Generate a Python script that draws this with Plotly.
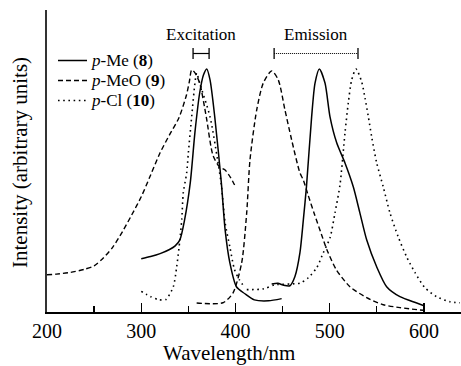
import plotly.graph_objects as go

# ---------------- data (wavelength in nm, intensity in arbitrary units) ----------------
me_ex_wl = [300, 310, 320, 330, 336, 341, 346, 352, 357, 362, 366, 369.5, 373, 378, 385, 389, 394, 401, 410, 420, 435, 449]
me_ex_int = [0.219, 0.228, 0.240, 0.257, 0.272, 0.297, 0.379, 0.531, 0.740, 0.901, 0.975, 1.000, 0.955, 0.803, 0.531, 0.338, 0.203, 0.104, 0.075, 0.050, 0.046, 0.055]

me_em_wl = [438.4, 445, 450.4, 457.8, 463.1, 468.4, 472, 475.3, 480.8, 484.4, 489, 495, 500.3, 507.4, 516.2, 525, 532, 539.2, 549.8, 560.4, 574.5, 592.3, 600]
me_em_int = [0.115, 0.118, 0.111, 0.108, 0.146, 0.244, 0.379, 0.515, 0.803, 0.942, 1.000, 0.942, 0.803, 0.696, 0.613, 0.515, 0.408, 0.297, 0.186, 0.104, 0.063, 0.037, 0.026]

meo_ex_wl = [200, 210, 225, 240, 250, 260, 270, 280, 290, 300, 310, 320, 330, 340, 348, 351, 353.5, 357, 362, 369, 376, 383, 389, 395, 400]
meo_ex_int = [0.153, 0.156, 0.163, 0.176, 0.190, 0.223, 0.268, 0.330, 0.400, 0.474, 0.564, 0.655, 0.729, 0.799, 0.893, 0.947, 0.996, 0.984, 0.942, 0.803, 0.646, 0.597, 0.584, 0.552, 0.515]

meo_em_wl = [358.8, 386.7, 397.3, 406.6, 411.9, 415.4, 422.5, 429.5, 438.4, 445.4, 452.5, 459.6, 468.4, 472, 477, 484, 491, 497, 507, 521.5, 539.2, 556.8, 574.5, 599.3]
meo_em_int = [0.037, 0.038, 0.078, 0.203, 0.408, 0.626, 0.831, 0.942, 0.992, 0.955, 0.831, 0.708, 0.572, 0.543, 0.482, 0.400, 0.322, 0.256, 0.174, 0.104, 0.059, 0.030, 0.018, 0.007]

cl_ex_wl = [300, 310, 318, 326, 334, 337.6, 341, 343, 344.6, 348.2, 350, 353.5, 357, 358.8, 362, 373, 381, 385, 389, 394, 399, 404, 410]
cl_ex_int = [0.085, 0.063, 0.051, 0.051, 0.104, 0.186, 0.297, 0.380, 0.490, 0.572, 0.655, 0.803, 0.942, 0.983, 0.942, 0.803, 0.626, 0.523, 0.367, 0.268, 0.174, 0.133, 0.100]

cl_em_wl = [412, 429.5, 441.9, 468.4, 477.2, 486.2, 493.2, 500.3, 505.6, 510.9, 516.2, 519.7, 523.3, 527.9, 533.9, 537.4, 541, 544.5, 549.8, 556.8, 563.9, 572.7, 581.6, 590.5, 601, 613.5, 627.6, 638.2]
cl_em_int = [0.092, 0.095, 0.112, 0.119, 0.141, 0.182, 0.244, 0.305, 0.408, 0.523, 0.737, 0.860, 0.955, 1.000, 0.947, 0.881, 0.803, 0.721, 0.614, 0.515, 0.408, 0.309, 0.227, 0.162, 0.100, 0.063, 0.042, 0.038]

series_names = ["<i>p</i>-Me (<b>8</b>)", "<i>p</i>-MeO (<b>9</b>)", "<i>p</i>-Cl (<b>10</b>)"]
excitation_range = [355, 372]
emission_range = [441, 530]
x_ticks = [200, 300, 400, 500, 600]
x_minor_ticks = [250, 350, 450, 550]

# ---------------- styles ----------------
FONT = "Liberation Serif"
styles = [dict(color="black", width=1.5, dash="solid"),
          dict(color="black", width=1.4, dash="5px,3px"),
          dict(color="black", width=1.6, dash="1.6px,3.6px")]

fig = go.Figure()
pairs = [((me_ex_wl, me_ex_int), (me_em_wl, me_em_int)),
         ((meo_ex_wl, meo_ex_int), (meo_em_wl, meo_em_int)),
         ((cl_ex_wl, cl_ex_int), (cl_em_wl, cl_em_int))]
for i, pair in enumerate(pairs):
    for wl, inten in pair:
        fig.add_trace(go.Scatter(x=wl, y=inten, mode="lines", name=series_names[i],
                                 legendgroup=str(i), showlegend=False,
                                 line=dict(shape="spline", smoothing=0.7, **styles[i]),
                                 hoverinfo="skip"))

W, H = 461, 366
ML, MR, MT, MB = 47, 0, 10, 54
pw, ph = W - ML - MR, H - MT - MB

def px2paper_x(px):
    return (px - ML) / pw

def py2paper_y(py):
    return (H - MB - py) / ph

shapes = []
annotations = []

# manual legend
leg_rows = [60.5, 80.5, 100.5]
for i, yy in enumerate(leg_rows):
    yp = py2paper_y(yy)
    shapes.append(dict(type="line", xref="paper", yref="paper",
                       x0=px2paper_x(58), x1=px2paper_x(87), y0=yp, y1=yp,
                       line=styles[i]))
    annotations.append(dict(xref="paper", yref="paper", x=px2paper_x(90), y=yp,
                            xanchor="left", yanchor="middle", showarrow=False, borderpad=0,
                            text=series_names[i], font=dict(family=FONT, size=17, color="black")))

# excitation / emission brackets
by = py2paper_y(53.5)
cap_top, cap_bot = py2paper_y(48), py2paper_y(59)
for rng, dash in ((excitation_range, "solid"), (emission_range, "1px,1px")):
    shapes.append(dict(type="line", xref="x", yref="paper", x0=rng[0], x1=rng[1], y0=by, y1=by,
                       line=dict(color="black", width=1.2, dash=dash)))
    for xv in rng:
        shapes.append(dict(type="line", xref="x", yref="paper", x0=xv, x1=xv, y0=cap_bot, y1=cap_top,
                           line=dict(color="black", width=1.3)))
annotations.append(dict(xref="x", yref="paper", x=sum(excitation_range) / 2, y=py2paper_y(35),
                        text="Excitation", showarrow=False, xanchor="center", yanchor="middle",
                        font=dict(family=FONT, size=17, color="black")))
annotations.append(dict(xref="x", yref="paper", x=sum(emission_range) / 2, y=py2paper_y(35),
                        text="Emission", showarrow=False, xanchor="center", yanchor="middle",
                        font=dict(family=FONT, size=17, color="black")))

# axis titles
annotations.append(dict(xref="paper", yref="paper", x=px2paper_x(229), y=py2paper_y(353),
                        text="Wavelength/nm", showarrow=False, xanchor="center", yanchor="middle",
                        font=dict(family=FONT, size=21, color="black")))
annotations.append(dict(xref="paper", yref="paper", x=px2paper_x(20), y=py2paper_y(163),
                        text="Intensity (arbitrary units)", showarrow=False, textangle=-90,
                        xanchor="center", yanchor="middle",
                        font=dict(family=FONT, size=21, color="black")))

fig.update_layout(
    width=W, height=H,
    margin=dict(l=ML, r=MR, t=MT, b=MB),
    paper_bgcolor="white", plot_bgcolor="white",
    showlegend=False,
    shapes=shapes, annotations=annotations,
    font=dict(family=FONT, color="black"),
    xaxis=dict(range=[200, 639.3], tickmode="array", tickvals=x_ticks,
               ticktext=[str(v) for v in x_ticks],
               ticks="inside", ticklen=9, tickwidth=1.3, tickcolor="black",
               minor=dict(tickmode="array", tickvals=x_minor_ticks, ticks="inside",
                          ticklen=6, tickwidth=1.3, tickcolor="black"),
               showline=True, linecolor="black", linewidth=1.6, mirror=False,
               showgrid=False, zeroline=False,
               tickfont=dict(family=FONT, size=20, color="black")),
    yaxis=dict(range=[0, 1.2425], showticklabels=False, ticks="",
               showline=True, linecolor="#333333", linewidth=1.8,
               showgrid=False, zeroline=False),
)

fig.write_html("out.html", config={"displayModeBar": False, "staticPlot": True},
               post_script="document.body.style.margin='0';document.body.style.padding='0';document.body.style.overflow='hidden';")
